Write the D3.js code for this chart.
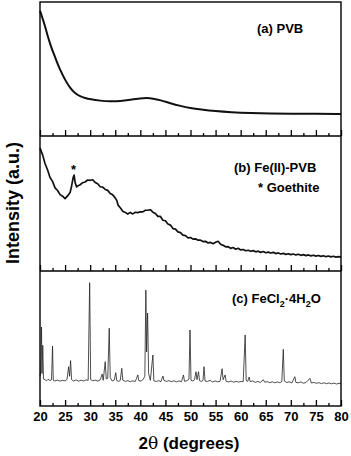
<!DOCTYPE html>
<html>
<head>
<meta charset="utf-8">
<script src="https://cdn.jsdelivr.net/npm/d3@7"></script>
<style>
  body { margin: 0; background: #fff; }
  text { font-family: "Liberation Sans", Arial, sans-serif; font-weight: bold; fill: #000; }
</style>
</head>
<body>
<div id="chart"></div>
<script>
// 2theta values (degrees) and intensities (a.u., 0-100 per panel)
const pvb = [
  [20.0, 93.5], [20.5, 88], [21.0, 82], [21.5, 75], [22.0, 69], [22.5, 63.5], [23.0, 59],
  [23.5, 54], [24.0, 49.5], [25.0, 41.8], [26.0, 35.8], [27.0, 31.8], [28.0, 29.6],
  [29.0, 28.3], [30.0, 27.4], [32.0, 26.3], [34.0, 25.8], [36.0, 26.0], [38.0, 27.0],
  [40.0, 28.0], [41.3, 28.4], [42.5, 28.0], [44.0, 26.8], [46.0, 24.4], [48.0, 22.4],
  [50.0, 20.8], [52.0, 19.8], [55.0, 18.5], [58.0, 17.7], [62.0, 17.1], [66.0, 16.8],
  [70.0, 16.6], [75.0, 16.5], [80.0, 16.5]
];

const fePvb = [
  [20.0, 91.0], [20.5, 86.2], [21.0, 79.6], [21.5, 75.0], [22.0, 69.2], [22.5, 66.4],
  [23.0, 61.6], [23.5, 59.6], [24.0, 56.6], [24.5, 55.4], [25.0, 53.6], [25.5, 55.6],
  [26.0, 58.1], [26.3, 63.0], [26.6, 69.0], [26.8, 71.0], [27.0, 65.5], [27.3, 62.3],
  [27.7, 63.4], [28.0, 63.9], [28.5, 65.4], [29.0, 65.9], [29.5, 67.4], [30.0, 67.2],
  [30.5, 67.6], [31.0, 65.6], [31.5, 64.6], [32.0, 62.4], [32.5, 62.2], [33.0, 60.4],
  [33.5, 59.7], [34.0, 57.4], [34.5, 56.4], [35.0, 54.1], [35.3, 52.3], [35.6, 48.6],
  [36.0, 46.9], [36.5, 44.2], [37.0, 43.4], [37.5, 42.2], [38.0, 43.4], [38.5, 42.3],
  [39.0, 43.5], [39.5, 43.2], [40.0, 43.8], [40.5, 43.8], [41.0, 45.0], [41.5, 45.0],
  [42.0, 45.4], [42.5, 43.6], [43.0, 42.6], [43.5, 40.5], [44.0, 40.4], [44.5, 37.6],
  [45.0, 37.2], [45.5, 34.8], [46.0, 34.0], [46.5, 31.4], [47.0, 31.0], [47.5, 29.0],
  [48.0, 28.4], [48.5, 26.6], [49.0, 26.2], [49.5, 24.6], [50.0, 24.8], [50.5, 23.6],
  [51.0, 23.8], [51.5, 22.8], [52.0, 22.8], [52.5, 21.8], [53.0, 22.0], [53.5, 20.8],
  [54.0, 21.2], [54.5, 20.2], [55.0, 21.3], [55.5, 22.0], [56.0, 19.8], [56.5, 19.0],
  [57.0, 17.9], [57.5, 18.0], [58.0, 16.8], [58.5, 17.4], [59.0, 16.1], [59.5, 16.8],
  [60.0, 15.6], [60.5, 15.9], [61.0, 15.0], [61.5, 15.4], [62.0, 14.6], [62.5, 15.1],
  [63.0, 14.2], [63.5, 14.7], [64.0, 13.8], [64.5, 14.4], [65.0, 13.5], [65.5, 14.0],
  [66.0, 13.3], [66.5, 13.8], [67.0, 12.9], [67.5, 13.4], [68.0, 12.6], [68.5, 13.1],
  [69.0, 12.3], [69.5, 12.8], [70.0, 12.1], [70.5, 12.6], [71.0, 11.9], [71.5, 12.4],
  [72.0, 11.6], [72.5, 12.1], [73.0, 11.4], [73.5, 11.9], [74.0, 11.2], [74.5, 11.7],
  [75.0, 11.0], [75.5, 11.5], [76.0, 10.8], [76.5, 11.3], [77.0, 10.6], [77.5, 11.1],
  [78.0, 10.5], [78.5, 10.9], [79.0, 10.3], [79.5, 10.7], [80.0, 10.3]
];

const fecl2 = [
  [20.0, 22], [20.15, 26], [20.3, 58.5], [20.4, 24], [20.55, 45], [20.7, 20], [21.0, 19.5],
  [21.3, 18.6], [21.6, 19.8], [22.0, 18.9], [22.3, 19.5], [22.5, 44.4], [22.65, 19],
  [23.0, 18.5], [23.5, 19.2], [24.0, 18.4], [24.5, 19.0], [25.0, 18.6], [25.4, 19.8],
  [25.7, 29.1], [25.9, 22], [26.1, 33.6], [26.3, 19.5], [26.7, 18.5], [27.2, 19.3],
  [27.7, 18.4], [28.2, 19.1], [28.7, 18.5], [29.2, 19.4], [29.6, 19], [29.9, 91.3],
  [30.1, 19.5], [30.5, 18.7], [31.0, 19.2], [31.5, 18.5], [32.0, 19.3], [32.4, 23.7],
  [32.6, 19], [33.0, 32.8], [33.2, 20], [33.5, 20.5], [33.8, 57.6], [34.0, 21], [34.4, 18.5],
  [34.8, 19.2], [35.1, 24.7], [35.3, 18.8], [35.7, 18.2], [36.0, 19], [36.3, 27.9],
  [36.5, 19.2], [37.0, 18.2], [37.5, 18.8], [38.0, 18], [38.5, 18.6], [39.0, 18.2],
  [39.5, 23], [39.7, 18.8], [40.2, 18.5], [40.6, 20], [40.9, 22], [41.1, 85.9],
  [41.25, 40], [41.45, 68.9], [41.65, 24], [42.0, 19], [42.5, 37.8], [42.7, 18.6],
  [43.2, 18.2], [43.7, 18.8], [44.1, 18], [44.5, 22.2], [44.7, 19], [45.2, 18.2],
  [45.7, 18.8], [46.2, 18], [46.7, 18.7], [47.2, 17.9], [47.7, 18.6], [48.2, 18],
  [48.6, 23], [48.8, 18.3], [49.3, 18.7], [49.7, 20], [49.9, 56.3], [50.1, 19], [50.5, 18.5],
  [50.8, 19.5], [51.1, 25.4], [51.3, 19.5], [51.6, 25.4], [51.8, 18.8], [52.2, 18.2],
  [52.5, 19], [52.7, 29.1], [52.9, 18.5], [53.4, 18.2], [53.9, 19], [54.4, 17.8],
  [54.9, 18.6], [55.4, 17.9], [55.9, 18.4], [56.3, 27.6], [56.5, 19.5], [56.9, 23],
  [57.1, 18.3], [57.6, 17.8], [58.1, 18.5], [58.6, 17.6], [59.1, 18.3], [59.6, 17.7],
  [60.1, 18.2], [60.5, 18], [60.9, 52.6], [61.1, 19], [61.4, 18.2], [61.7, 21.5], [61.9, 18],
  [62.4, 18.6], [62.9, 17.5], [63.4, 18.2], [63.9, 17.4], [64.5, 19.5], [64.8, 17.6],
  [65.3, 18.1], [65.8, 17.3], [66.3, 17.9], [66.8, 17.2], [67.3, 17.8], [67.8, 17.3],
  [68.2, 18], [68.5, 42], [68.7, 18.5], [69.2, 17.4], [69.7, 17.9], [70.2, 17.1],
  [70.8, 21.7], [71.0, 17.5], [71.5, 17.2], [72.0, 17.8], [72.5, 16.9], [73.0, 17.4],
  [73.8, 20.5], [74.1, 17], [74.6, 17.5], [75.1, 16.8], [75.6, 17.3], [76.1, 16.6],
  [76.6, 17.2], [77.1, 16.5], [77.6, 17.1], [78.1, 16.4], [78.6, 17], [79.1, 16.3],
  [79.6, 16.8], [80.0, 16.5]
];

const majorTicks = [20, 25, 30, 35, 40, 45, 50, 55, 60, 65, 70, 75, 80];
const minorTicks = [22.5, 27.5, 32.5, 37.5, 42.5, 47.5, 52.5, 57.5, 62.5, 67.5, 72.5, 77.5];
const goethiteMarks = [26.7];

const width = 351;
const height = 456;
const left = 40, right = 341;
const panelTops = [2, 136, 271];
const panelBottoms = [136, 271, 406];

const svg = d3.select("#chart").append("svg")
  .attr("width", width)
  .attr("height", height);

const x = d3.scaleLinear().domain([20, 80]).range([left, right]);

const panels = [
  { data: pvb, curve: d3.curveBasis, sw: 2, color: "#111", label: "(a) PVB", lx: 257, ly: 33 },
  { data: fePvb, curve: d3.curveLinear, sw: 1.7, color: "#111", label: "(b) Fe(II)-PVB", lx: 234, ly: 172 },
  { data: fecl2, curve: d3.curveLinear, sw: 0.8, color: "#222", label: null }
];

panels.forEach((p, i) => {
  const y = d3.scaleLinear().domain([0, 100]).range([panelBottoms[i], panelTops[i]]);
  const line = d3.line().x(d => x(d[0])).y(d => y(d[1])).curve(p.curve);

  svg.append("path")
    .datum(p.data)
    .attr("d", line)
    .attr("fill", "none")
    .attr("stroke", p.color)
    .attr("stroke-width", p.sw)
    .attr("stroke-linejoin", "round");

  // inward ticks on the bottom of each panel
  const major = d3.axisBottom(x).tickValues(majorTicks).tickSizeInner(-6).tickSizeOuter(0)
    .tickPadding(6).tickFormat(i === 2 ? d3.format("d") : () => "");
  const minor = d3.axisBottom(x).tickValues(minorTicks).tickSizeInner(-3).tickSizeOuter(0)
    .tickFormat(() => "");

  const gMaj = svg.append("g").attr("transform", `translate(0,${panelBottoms[i]})`).call(major);
  const gMin = svg.append("g").attr("transform", `translate(0,${panelBottoms[i]})`).call(minor);
  [gMaj, gMin].forEach(g => {
    g.select(".domain").remove();
    g.selectAll("line").attr("stroke", "#000").attr("stroke-width", 1.3);
  });
  gMaj.selectAll("text")
    .style("font-family", "'Liberation Sans', Arial, sans-serif")
    .style("font-weight", "bold")
    .style("font-size", "13px")
    .attr("fill", "#000");

  if (p.label) {
    svg.append("text").attr("x", p.lx).attr("y", p.ly)
      .style("font-size", "13px").text(p.label);
  }
});

// FeCl2·4H2O label with subscripts
const cl = svg.append("text").attr("x", 232).attr("y", 303).style("font-size", "13px");
cl.append("tspan").text("(c) FeCl");
cl.append("tspan").attr("dy", 4).style("font-size", "9px").text("2");
cl.append("tspan").attr("dy", -4).text("·4H");
cl.append("tspan").attr("dy", 4).style("font-size", "9px").text("2");
cl.append("tspan").attr("dy", -4).text("O");

// goethite marker
svg.selectAll(".star").data(goethiteMarks).join("text")
  .attr("x", d => x(d))
  .attr("y", 174)
  .attr("text-anchor", "middle")
  .style("font-size", "13px")
  .text("*");
svg.append("text").attr("x", 258).attr("y", 192).style("font-size", "13px").text("* Goethite");

// frame and panel dividers
svg.append("rect")
  .attr("x", left).attr("y", panelTops[0])
  .attr("width", right - left).attr("height", panelBottoms[2] - panelTops[0])
  .attr("fill", "none").attr("stroke", "#000").attr("stroke-width", 1.4);
[136, 271].forEach(v => {
  svg.append("line").attr("x1", left).attr("x2", right).attr("y1", v).attr("y2", v)
    .attr("stroke", "#000").attr("stroke-width", 1.4);
});

// axis titles
const xt = svg.append("text").attr("x", 189).attr("y", 449)
  .attr("text-anchor", "middle").style("font-size", "17px");
xt.append("tspan").text("2");
xt.append("tspan").style("font-family", "'DejaVu Serif', serif").style("font-weight", "normal").text("θ");
xt.append("tspan").text(" (degrees)");

svg.append("text")
  .attr("transform", "translate(19,203) rotate(-90)")
  .attr("text-anchor", "middle")
  .style("font-size", "18px")
  .text("Intensity (a.u.)");
</script>
</body>
</html>
